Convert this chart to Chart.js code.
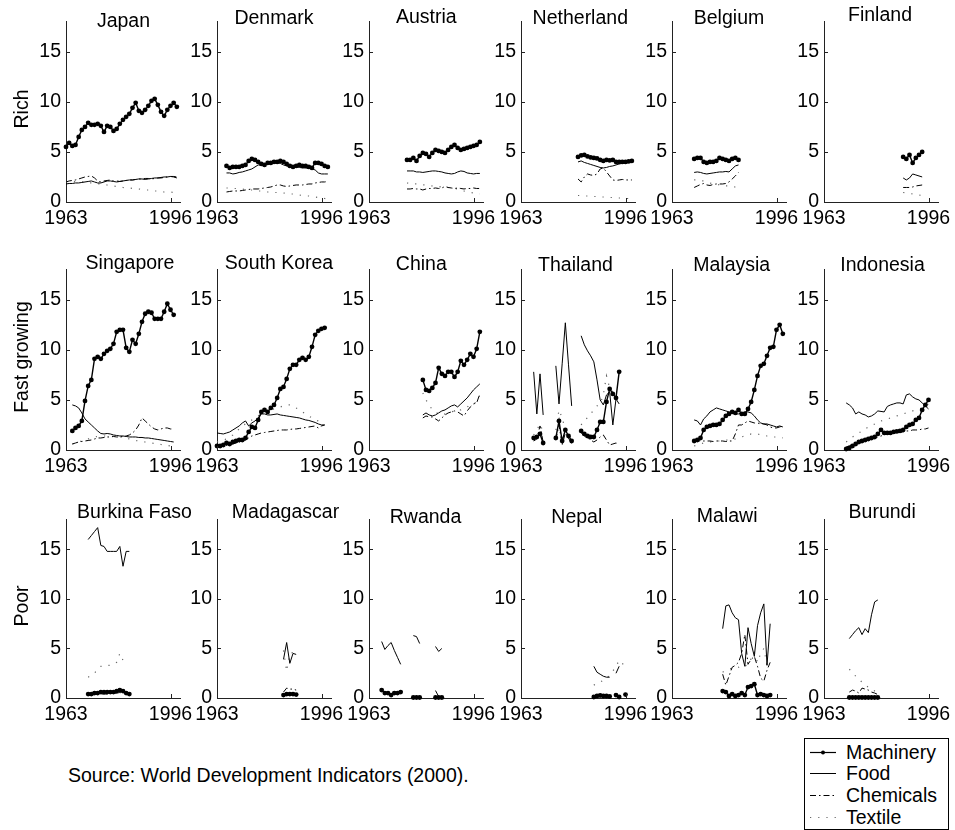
<!DOCTYPE html>
<html>
<head>
<meta charset="utf-8">
<script src="https://cdn.jsdelivr.net/npm/chart.js@4.4.1/dist/chart.umd.min.js"></script>
<style>
  body { margin: 0; background: #fff; }
  #wrap { position: relative; width: 955px; height: 830px; overflow: hidden; background: #fff;
          font-family: "Liberation Sans", Arial, Helvetica, sans-serif; color: #000; }
  #wrap canvas { position: absolute; }
  .ptitle { position: absolute; font-size: 19.5px; line-height: 20px; white-space: nowrap; transform: translateX(-50%); }
  .rowlab { position: absolute; font-size: 19.5px; line-height: 19.5px; white-space: nowrap;
            transform: translate(-50%, -50%) rotate(-90deg); }
  .txt { position: absolute; font-size: 19.5px; line-height: 20px; white-space: nowrap; }
  #legbox { position: absolute; border: 1px solid #000; box-sizing: border-box; background: #fff; }
</style>
</head>
<body>
<div id="wrap"></div>
<script>
// ---------------- DATA ----------------
const years = [1963,1964,1965,1966,1967,1968,1969,1970,1971,1972,1973,1974,1975,1976,1977,1978,1979,1980,
               1981,1982,1983,1984,1985,1986,1987,1988,1989,1990,1991,1992,1993,1994,1995,1996,1997,1998];
const xTickLabels = [1963, 1996];
const yTickLabels = [0, 5, 10, 15];
const groups = ["Rich", "Fast growing", "Poor"];
const seriesNames = ["Machinery", "Food", "Chemicals", "Textile"];
const countries = ["Japan","Denmark","Austria","Netherland","Belgium","Finland",
                   "Singapore","South Korea","China","Thailand","Malaysia","Indonesia",
                   "Burkina Faso","Madagascar","Rwanda","Nepal","Malawi","Burundi"];
const firstYear = [1963,1966,1975,1981,1970,1988,
                   1965,1963,1980,1967,1970,1970,
                   1970,1984,1967,1986,1979,1971];

// Japan
const japanMachinery = [5.5,5.9,5.6,5.7,6.5,7.2,7.5,7.9,7.7,7.7,7.8,7.6,7.0,7.6,7.5,7.1,7.3,7.8,8.2,8.5,8.8,9.4,9.9,9.1,8.9,9.2,9.6,10.1,10.3,9.7,9.0,8.6,9.2,9.6,9.9,9.5];
const japanFood      = [1.8,1.85,1.85,1.9,1.9,1.95,2.0,2.05,2.1,2.0,1.9,1.9,2.0,2.1,2.1,2.05,2.0,2.05,2.1,2.15,2.2,2.2,2.25,2.3,2.3,2.25,2.3,2.35,2.4,2.4,2.45,2.5,2.5,2.55,2.5,2.4];
const japanChemicals = [2.0,2.1,2.15,2.2,2.3,2.4,2.5,2.55,2.6,2.4,2.1,2.0,2.1,2.15,2.2,2.1,2.1,2.05,2.1,2.15,2.2,2.2,2.25,2.3,2.3,2.35,2.35,2.3,2.35,2.4,2.4,2.45,2.5,2.55,2.55,2.5];
const japanTextile   = [2.0,2.0,2.1,2.0,2.0,2.0,2.0,1.9,1.9,1.85,1.8,1.8,1.75,1.7,1.65,1.6,1.55,1.5,1.45,1.4,1.4,1.35,1.3,1.3,1.25,1.2,1.2,1.15,1.1,1.1,1.05,1.0,1.0,1.0,0.95,0.95];
// Denmark
const denmarkMachinery = [3.6,3.4,3.5,3.5,3.5,3.6,3.7,4.1,4.3,4.2,4.0,3.8,3.7,3.9,3.9,4.0,4.0,4.1,4.0,3.8,3.6,3.5,3.6,3.7,3.6,3.6,3.5,3.4,3.9,3.9,3.8,3.6,3.5];
const denmarkFood      = [2.9,2.9,2.8,2.85,2.95,3.0,3.1,3.2,3.3,3.5,3.7,3.7,3.8,3.8,3.85,3.9,3.9,3.85,3.7,3.6,3.5,3.5,3.5,3.45,3.4,3.4,3.35,3.3,3.2,2.9,2.8,2.8,2.8];
const denmarkChemicals = [1.0,1.05,1.1,1.1,1.1,1.15,1.2,1.25,1.3,1.3,1.3,1.35,1.4,1.45,1.5,1.6,1.7,1.7,1.6,1.55,1.6,1.65,1.7,1.7,1.7,1.75,1.8,1.8,1.9,1.95,2.0,2.0,2.05];
const denmarkTextile   = [1.4,1.4,1.35,1.35,1.3,1.3,1.25,1.2,1.2,1.15,1.1,1.1,1.05,1.0,1.0,0.95,0.95,0.9,0.9,0.85,0.8,0.8,0.75,0.7,0.65,0.6,0.6,0.55,0.5,0.45,0.4,0.35,0.3];
// Austria
const austriaMachinery = [4.2,4.2,4.4,4.1,4.6,4.9,4.8,4.5,4.9,5.2,5.1,5.0,4.9,5.2,5.5,5.7,5.4,5.2,5.3,5.4,5.5,5.6,5.7,6.0];
const austriaFood      = [3.1,3.1,3.1,3.0,3.0,2.95,3.0,3.05,3.1,3.1,3.05,3.0,2.9,2.85,2.8,2.85,3.0,3.1,3.05,2.9,2.85,2.8,2.85,2.85];
const austriaChemicals = [1.3,1.3,1.35,1.3,1.3,1.2,1.3,1.35,1.35,1.4,1.35,1.4,1.55,1.45,1.4,1.35,1.4,1.35,1.3,1.35,1.35,1.4,1.35,1.35];
const austriaTextile   = [1.9,1.85,1.8,1.8,1.75,1.7,1.7,1.65,1.6,1.6,1.55,1.5,1.5,1.45,1.4,1.35,1.3,1.2,1.1,1.0,0.95,0.9,0.85,0.8];
// Netherland
const netherlandMachinery = [4.5,4.65,4.7,4.55,4.45,4.4,4.35,4.2,4.1,4.2,4.15,4.2,4.0,4.0,4.0,4.0,4.05,4.1];
const netherlandFood      = [4.0,4.1,3.95,3.85,3.75,3.65,3.55,3.45,3.4,3.45,3.55,3.6,3.7,3.8,3.85,3.9,3.95,4.0];
const netherlandChemicals = [2.3,2.0,2.5,2.8,2.7,2.65,2.8,3.3,3.4,3.0,2.6,2.2,2.15,2.2,2.25,2.2,2.2,2.2];
const netherlandTextile   = [0.65,0.65,0.6,0.6,0.55,0.55,0.55,0.5,0.5,0.5,0.45,0.45,0.4,0.4,0.4,0.35,0.35,0.35];
// Belgium
const belgiumMachinery = [4.3,4.4,4.4,4.0,3.9,4.0,4.0,4.1,4.4,4.3,4.2,4.1,4.3,4.4,4.2];
const belgiumFood      = [2.95,3.0,2.95,2.85,2.8,2.85,2.9,2.95,3.0,3.0,3.05,3.0,3.3,3.6,3.7];
const belgiumChemicals = [1.45,1.6,1.75,1.85,1.7,1.65,1.75,1.8,1.8,1.8,1.85,2.0,2.3,2.6,2.95];
const belgiumTextile   = [2.2,2.2,2.1,2.1,2.0,1.9,1.8,1.8,1.7,1.7,1.6,1.6,1.55,1.5,1.5];
// Finland
const finlandMachinery = [4.5,4.3,4.7,3.9,4.4,4.7,5.0];
const finlandFood      = [2.4,2.2,2.4,2.8,2.7,2.6,2.5];
const finlandChemicals = [1.45,1.45,1.45,1.5,1.6,1.65,1.7];
const finlandTextile   = [0.95,0.9,0.85,0.8,0.75,0.7,0.65];
// Singapore
const singaporeMachinery = [1.9,2.2,2.4,2.9,4.9,6.4,7.0,9.1,9.3,9.1,9.6,9.9,10.1,10.6,11.8,12.0,12.0,10.2,9.8,11.0,10.6,11.6,12.8,13.6,13.8,13.7,13.1,13.1,13.1,13.8,14.6,14.0,13.5];
const singaporeFood      = [4.5,4.4,4.2,3.7,3.1,2.8,2.5,2.2,1.9,1.65,1.6,1.65,1.6,1.5,1.45,1.4,1.4,1.35,1.3,1.3,1.3,1.25,1.25,1.2,1.2,1.15,1.1,1.05,1.0,0.95,0.9,0.85,0.8];
const singaporeChemicals = [0.6,0.7,0.8,0.85,0.9,0.95,1.0,1.1,1.2,1.2,1.25,1.3,1.3,1.35,1.3,1.3,1.35,1.4,1.5,1.7,2.0,2.5,3.2,2.9,2.6,2.3,2.1,2.0,2.1,2.2,2.2,2.1,2.1];
const singaporeTextile   = [0.6,0.7,0.8,0.9,1.0,1.1,1.2,1.3,1.35,1.4,1.4,1.4,1.4,1.35,1.35,1.3,1.3,1.2,1.1,1.0,0.95,0.9,0.85,0.8,0.75,0.7,0.65,0.6,0.55,0.5,0.45,0.4,0.35];
// South Korea
const koreaMachinery = [0.4,0.4,0.5,0.7,0.6,0.8,0.9,1.0,1.0,1.2,1.8,2.3,2.2,3.0,3.8,4.0,3.8,4.2,4.5,5.2,6.1,6.3,7.1,8.1,8.5,8.5,9.0,9.2,9.0,9.3,10.3,11.5,11.9,12.1,12.2];
const koreaFood      = [1.7,1.65,1.6,1.7,1.8,2.0,2.2,2.4,2.7,2.9,2.4,2.7,2.9,3.2,3.6,3.6,3.5,3.5,3.55,3.6,3.5,3.45,3.4,3.35,3.3,3.25,3.2,3.1,3.0,2.95,2.85,2.75,2.6,2.5,2.5];
const koreaChemicals = [0.3,0.35,0.4,0.45,0.5,0.6,0.7,0.8,0.9,1.0,1.2,1.4,1.5,1.6,1.7,1.75,1.8,1.85,1.9,1.95,2.0,2.0,2.0,2.05,2.1,2.1,2.15,2.2,2.25,2.3,2.35,2.4,2.2,2.4,2.5];
const koreaTextile   = [0.8,0.9,1.0,1.1,1.3,1.5,1.8,2.1,2.4,2.6,2.8,3.0,3.2,3.4,3.6,3.8,3.9,4.0,4.1,4.2,4.3,4.4,4.5,4.5,4.4,4.2,4.0,3.8,3.6,3.4,3.2,3.0,2.9,2.8,2.7];
// China
const chinaMachinery = [7.0,6.0,5.9,6.2,6.7,8.2,7.6,7.4,7.8,7.8,7.3,7.8,8.9,8.5,9.0,9.6,9.3,10.1,11.8];
const chinaFood      = [3.5,3.7,3.5,3.4,3.5,3.7,3.9,4.0,4.2,4.4,4.5,4.3,4.6,4.9,5.2,5.6,6.0,6.3,6.6];
const chinaChemicals = [3.2,3.4,3.3,3.3,3.1,2.9,3.2,3.5,3.7,3.8,3.9,3.8,3.6,3.4,3.9,4.3,4.6,4.7,5.6];
const chinaTextile   = [5.7,5.0,4.5,4.0,3.8,3.6,3.5,3.6,3.7,3.8,3.9,4.0,4.0,4.2,4.3,4.5,4.6,4.8,5.5];
// Thailand
const thailandMachinery = [1.2,1.3,1.6,0.7,null,null,null,1.2,2.9,0.9,2.0,1.4,0.9,null,null,1.9,1.6,1.4,1.3,1.3,2.0,2.8,2.8,4.8,6.1,5.6,5.2,7.8];
const thailandFood      = [7.8,3.6,7.6,3.5,null,null,null,8.4,4.6,8.6,12.7,8.5,4.4,null,null,11.4,10.5,9.9,9.4,8.8,7.0,5.0,4.5,5.5,5.8,2.5,5.1,4.6];
const thailandChemicals = [0.9,1.1,2.4,0.8,null,null,null,1.0,2.5,0.5,1.7,1.2,0.6,null,null,1.7,1.4,1.2,1.0,0.8,1.0,1.3,1.5,1.0,0.5,0.6,0.7,0.6];
const thailandTextile   = [1.5,2.0,2.6,1.8,null,null,null,2.0,4.0,3.2,2.0,1.5,1.2,null,null,2.5,3.0,3.2,3.6,4.0,4.4,4.6,5.5,7.4,6.2,5.8,5.4,5.0];
// Malaysia
const malaysiaMachinery = [0.9,1.0,1.2,2.0,2.3,2.4,2.5,2.5,2.6,3.0,3.4,3.6,3.8,3.7,4.0,3.6,3.6,4.1,4.8,6.0,7.4,8.4,8.6,9.4,10.2,10.3,12.0,12.5,11.6];
const malaysiaFood      = [3.0,2.9,2.5,3.1,3.4,3.8,4.0,4.2,4.1,4.0,3.9,3.8,3.7,3.6,3.6,3.7,3.8,3.8,3.7,3.4,3.0,2.7,2.6,2.6,2.5,2.4,2.3,2.4,2.3];
const malaysiaChemicals = [1.0,0.95,0.9,0.9,0.9,0.9,0.85,0.9,0.9,0.9,0.85,0.9,0.9,1.6,2.5,2.5,2.7,2.9,2.8,2.7,2.7,2.6,2.6,2.5,2.3,2.2,2.2,2.3,2.4];
const malaysiaTextile   = [0.4,0.5,0.6,0.7,0.75,0.8,0.85,0.9,0.9,0.95,1.0,1.0,1.05,1.1,1.2,1.3,1.4,1.5,1.6,1.6,1.6,1.5,1.5,1.4,1.4,1.3,1.3,1.3,1.2];
// Indonesia
const indonesiaMachinery = [0.1,0.2,0.4,0.6,0.8,0.9,1.0,1.1,1.2,1.3,1.6,2.0,1.7,1.7,1.7,1.8,1.85,1.9,2.0,2.3,2.5,2.6,3.0,3.2,4.0,4.5,5.0];
const indonesiaFood      = [4.7,4.5,4.2,3.6,3.8,3.6,3.5,3.3,3.4,3.6,3.9,3.85,3.8,4.35,4.5,4.6,4.7,4.7,4.6,5.5,5.6,5.3,5.1,5.0,4.7,4.4,4.1];
const indonesiaChemicals = [0.3,0.4,0.5,0.6,0.7,0.8,0.9,1.0,1.1,1.2,1.3,1.4,1.5,1.6,1.6,1.7,1.7,1.8,1.8,1.9,1.9,2.0,2.0,2.0,2.1,2.1,2.2];
const indonesiaTextile   = [0.8,1.0,1.3,1.5,1.7,1.9,2.1,2.3,2.4,2.6,2.8,2.9,3.0,3.1,3.2,3.3,3.4,3.5,3.6,3.7,3.8,3.9,4.0,4.1,4.2,4.4,4.6];
// Burkina Faso
const burkinaMachinery = [0.4,0.4,0.5,0.5,0.6,0.6,0.6,0.6,0.6,0.7,0.8,0.7,0.5,0.4];
const burkinaFood      = [16.0,16.4,16.8,17.2,15.4,15.3,14.8,14.8,14.8,14.8,15.3,13.3,14.8,14.8];
const burkinaChemicals = [0.3,0.3,0.35,0.35,0.4,0.4,0.4,0.45,0.45,0.5,0.55,0.5,0.4,0.35];
const burkinaTextile   = [2.1,2.3,2.5,2.9,3.2,3.2,3.3,3.3,3.5,3.6,4.5,3.8,3.9,4.0];
// Madagascar
const madagascarMachinery = [0.3,0.4,0.4,0.4,0.35];
const madagascarFood      = [3.9,5.6,3.5,4.5,4.4];
const madagascarChemicals = [0.6,1.0,0.9,0.9,0.8];
const madagascarTextile   = [4.8,2.7,4.5,4.6,4.5];
// Rwanda
const rwandaMachinery = [0.8,0.5,0.5,0.3,0.5,0.5,0.6,null,null,null,0.05,0.05,0.05,null,null,null,null,0.05,0.05,0.05];
const rwandaFood      = [5.7,4.9,5.3,5.6,4.8,4.1,3.4,null,null,null,6.3,6.2,5.5,null,null,null,null,5.2,4.7,5.0];
const rwandaChemicals = [null,null,null,null,null,null,null,null,null,null,null,null,null,null,null,null,null,0.75,0.15,null];
const rwandaTextile   = [];
// Nepal
const nepalMachinery = [0.1,0.2,0.25,0.2,0.2,0.15,null,0.3,0.1,null,0.35];
const nepalFood      = [3.2,2.6,2.4,2.2,2.1,2.1,null,2.5,3.2,null,null];
const nepalChemicals = [];
const nepalTextile   = [1.3,1.5,1.6,1.8,2.0,2.3,2.7,3.2,3.8,3.5,3.1];
// Malawi
const malawiMachinery = [0.7,0.6,0.2,0.4,0.2,0.3,0.5,0.3,1.1,1.2,1.4,0.3,0.4,0.3,0.2,0.3];
const malawiFood      = [7.0,9.3,9.4,8.6,8.1,7.9,4.5,3.2,7.1,5.5,4.2,7.3,8.6,9.5,3.3,7.5];
const malawiChemicals = [2.4,1.3,2.2,3.1,3.3,3.6,4.5,6.4,3.4,3.9,4.2,3.2,2.0,1.7,2.8,3.6];
const malawiTextile   = [2.6,2.8,2.9,3.0,3.0,3.1,3.3,3.2,3.4,4.0,4.6,3.6,4.5,5.0,3.3,3.2];
// Burundi
const burundiMachinery = [0.05,0.05,0.05,0.05,0.05,0.05,0.05,0.05,0.05,0.05];
const burundiFood      = [6.0,6.4,6.8,7.1,6.4,7.0,6.6,8.4,9.7,9.9];
const burundiChemicals = [0.6,0.8,0.7,0.5,1.0,0.9,0.8,0.6,0.5,0.35];
const burundiTextile   = [2.9,2.6,2.2,1.9,1.6,1.3,1.1,0.9,0.7,0.6];

const machinery = [japanMachinery,denmarkMachinery,austriaMachinery,netherlandMachinery,belgiumMachinery,finlandMachinery,
  singaporeMachinery,koreaMachinery,chinaMachinery,thailandMachinery,malaysiaMachinery,indonesiaMachinery,
  burkinaMachinery,madagascarMachinery,rwandaMachinery,nepalMachinery,malawiMachinery,burundiMachinery];
const food = [japanFood,denmarkFood,austriaFood,netherlandFood,belgiumFood,finlandFood,
  singaporeFood,koreaFood,chinaFood,thailandFood,malaysiaFood,indonesiaFood,
  burkinaFood,madagascarFood,rwandaFood,nepalFood,malawiFood,burundiFood];
const chemicals = [japanChemicals,denmarkChemicals,austriaChemicals,netherlandChemicals,belgiumChemicals,finlandChemicals,
  singaporeChemicals,koreaChemicals,chinaChemicals,thailandChemicals,malaysiaChemicals,indonesiaChemicals,
  burkinaChemicals,madagascarChemicals,rwandaChemicals,nepalChemicals,malawiChemicals,burundiChemicals];
const textile = [japanTextile,denmarkTextile,austriaTextile,netherlandTextile,belgiumTextile,finlandTextile,
  singaporeTextile,koreaTextile,chinaTextile,thailandTextile,malaysiaTextile,indonesiaTextile,
  burkinaTextile,madagascarTextile,rwandaTextile,nepalTextile,malawiTextile,burundiTextile];

// ---------------- LAYOUT (positions only) ----------------
const AXIS_X = [66, 217, 369, 521, 672, 824];
const PLOT_TOP = [15, 263, 513];
const PLOT_BOTTOM = [202, 450, 698];
const PLOT_W = 114;
const PAD_L = 50, PAD_T = 10, PAD_R = 40, PAD_B = 40;
const TITLE_CX = [123.5,274,426.3,580.3,729,880, 130,279,421.3,575.5,731.7,882.5, 134.5,285.5,425.5,576.8,727.2,882.2];
const TITLE_BASE = [26.7,23.3,22.7,23.3,23.3,20.7, 269,269,269.3,270.7,271,271, 518,518,523,523,522,518];
const FONT = '"Liberation Sans", Arial, Helvetica, sans-serif';

Chart.defaults.font.family = FONT;
Chart.defaults.font.size = 19.5;
Chart.defaults.color = '#000';

const wrap = document.getElementById('wrap');

const insideTicks = {
  id: 'insideTicks',
  afterDraw(chart) {
    const { ctx, chartArea: a, scales: { x, y } } = chart;
    ctx.save();
    ctx.strokeStyle = '#222';
    ctx.lineWidth = 1;
    ctx.beginPath();
    xTickLabels.forEach(v => {
      const px = Math.round(x.getPixelForValue(v)) + 0.5;
      ctx.moveTo(px, a.bottom); ctx.lineTo(px, a.bottom - 4);
    });
    yTickLabels.forEach(v => {
      const py = Math.round(y.getPixelForValue(v)) + 0.5;
      ctx.moveTo(a.left, py); ctx.lineTo(a.left + 4, py);
    });
    ctx.stroke();
    ctx.restore();
  }
};

function toPoints(arr, i) {
  const off = years.indexOf(firstYear[i]);
  return arr.map((v, k) => ({ x: years[off + k], y: v }));
}

countries.forEach((name, i) => {
  const r = Math.floor(i / 6), c = i % 6;
  const ax = AXIS_X[c], top = PLOT_TOP[r], bot = PLOT_BOTTOM[r];
  const W = PAD_L + PLOT_W + PAD_R, H = (bot - top) + PAD_T + PAD_B;
  const cv = document.createElement('canvas');
  cv.width = W; cv.height = H;
  cv.style.left = (ax - PAD_L) + 'px';
  cv.style.top = (top - PAD_T) + 'px';
  cv.style.width = W + 'px'; cv.style.height = H + 'px';
  wrap.appendChild(cv);

  new Chart(cv, {
    type: 'line',
    data: {
      datasets: [
        { label: seriesNames[0], data: toPoints(machinery[i], i), borderColor: '#000', backgroundColor: '#000',
          borderWidth: 1.4, pointRadius: 2.4, pointBorderWidth: 0, pointBackgroundColor: '#000', clip: false },
        { label: seriesNames[1], data: toPoints(food[i], i), borderColor: '#000', borderWidth: 1,
          pointRadius: 0, clip: false },
        { label: seriesNames[2], data: toPoints(chemicals[i], i), borderColor: '#000', borderWidth: 1,
          borderDash: [6, 3, 1.5, 3], pointRadius: 0, clip: false },
        { label: seriesNames[3], data: toPoints(textile[i], i), borderColor: '#666', borderWidth: 1.2,
          borderDash: [1.2, 7], pointRadius: 0, clip: false }
      ]
    },
    options: {
      responsive: false, animation: false, devicePixelRatio: 1,
      layout: { padding: { left: 0, top: PAD_T, right: PAD_R, bottom: 0 } },
      spanGaps: false,
      elements: { line: { tension: 0 } },
      plugins: { legend: { display: false }, tooltip: { enabled: false }, title: { display: false } },
      scales: {
        x: {
          type: 'linear', min: 1963, max: 1999,
          afterBuildTicks: s => { s.ticks = xTickLabels.map(v => ({ value: v })); },
          afterFit: s => { s.height = PAD_B; },
          grid: { display: false, drawTicks: false },
          border: { display: true, color: '#222', width: 1 },
          ticks: { color: '#000', padding: 5, maxRotation: 0, autoSkip: false, callback: v => String(v) }
        },
        y: {
          min: 0, max: 18,
          afterBuildTicks: s => { s.ticks = yTickLabels.map(v => ({ value: v })); },
          afterFit: s => { s.width = PAD_L; },
          grid: { display: false, drawTicks: false },
          border: { display: true, color: '#222', width: 1 },
          ticks: { color: '#000', padding: 5, autoSkip: false, callback: v => String(v) }
        }
      }
    },
    plugins: [insideTicks]
  });

  const t = document.createElement('div');
  t.className = 'ptitle';
  t.textContent = name;
  t.style.left = TITLE_CX[i] + 'px';
  t.style.top = (TITLE_BASE[i] - 16.75) + 'px';
  wrap.appendChild(t);
});

groups.forEach((g, r) => {
  const d = document.createElement('div');
  d.className = 'rowlab';
  d.textContent = g;
  d.style.left = '21.5px';
  d.style.top = ((PLOT_TOP[r] + PLOT_BOTTOM[r]) / 2) + 'px';
  wrap.appendChild(d);
});

// Source note
const src = document.createElement('div');
src.className = 'txt';
src.textContent = 'Source: World Development Indicators (2000).';
src.style.left = '68px';
src.style.top = (782 - 16.75) + 'px';
wrap.appendChild(src);

// Legend
const LEG = { left: 804, top: 738, right: 949, bottom: 830, lineX0: 810, lineX1: 836, textX: 846, rows: [752, 773, 795, 817] };
const box = document.createElement('div');
box.id = 'legbox';
box.style.left = LEG.left + 'px'; box.style.top = LEG.top + 'px';
box.style.width = (LEG.right - LEG.left) + 'px'; box.style.height = (LEG.bottom - LEG.top) + 'px';
wrap.appendChild(box);
const NS = 'http://www.w3.org/2000/svg';
const svg = document.createElementNS(NS, 'svg');
svg.setAttribute('width', 955); svg.setAttribute('height', 830);
svg.style.position = 'absolute'; svg.style.left = '0'; svg.style.top = '0';
const legStyles = [
  { dash: null, color: '#000', w: 1.2, dot: true },
  { dash: null, color: '#000', w: 1, dot: false },
  { dash: '6 3 1.5 3', color: '#000', w: 1, dot: false },
  { dash: '1.2 7', color: '#666', w: 1.2, dot: false }
];
seriesNames.forEach((s, k) => {
  const y = LEG.rows[k] + 0.5;
  const st = legStyles[k];
  const ln = document.createElementNS(NS, 'line');
  ln.setAttribute('x1', LEG.lineX0); ln.setAttribute('x2', LEG.lineX1);
  ln.setAttribute('y1', y); ln.setAttribute('y2', y);
  ln.setAttribute('stroke', st.color); ln.setAttribute('stroke-width', st.w);
  if (st.dash) ln.setAttribute('stroke-dasharray', st.dash);
  svg.appendChild(ln);
  if (st.dot) {
    const c = document.createElementNS(NS, 'circle');
    c.setAttribute('cx', (LEG.lineX0 + LEG.lineX1) / 2); c.setAttribute('cy', y); c.setAttribute('r', 2);
    c.setAttribute('fill', '#000');
    svg.appendChild(c);
  }
  const tx = document.createElement('div');
  tx.className = 'txt';
  tx.textContent = s;
  tx.style.left = LEG.textX + 'px';
  tx.style.top = (LEG.rows[k] + 7 - 16.75) + 'px';
  wrap.appendChild(tx);
});
wrap.appendChild(svg);
</script>
</body>
</html>
